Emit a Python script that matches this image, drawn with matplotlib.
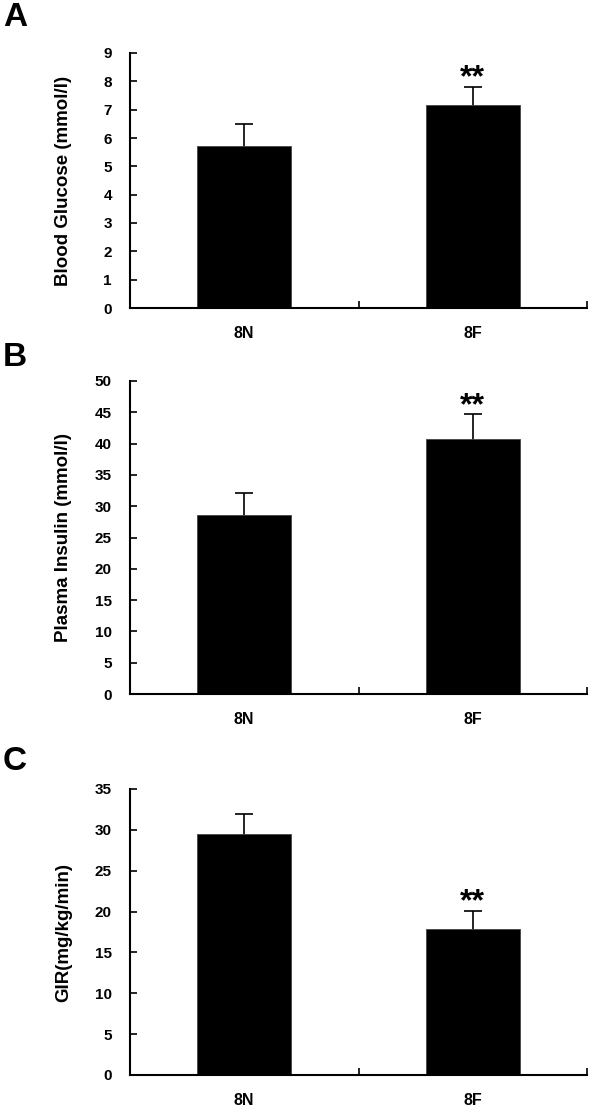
import matplotlib
matplotlib.use("Agg")
import matplotlib.pyplot as plt

groups = ["8N", "8F"]

glucose_mean = [5.72, 7.17]
glucose_err = [0.78, 0.64]

insulin_mean = [28.6, 40.7]
insulin_err = [3.5, 4.0]

gir_mean = [29.5, 17.9]
gir_err = [2.5, 2.2]

panel_letters = ["A", "B", "C"]
ylabels = ["Blood Glucose (mmol/l)", "Plasma Insulin (mmol/l)", "GIR(mg/kg/min)"]
ymax = [9, 50, 35]
ystep = [1, 5, 5]
signif = [[None, "**"], [None, "**"], [None, "**"]]

plt.rcParams['font.family'] = ['Liberation Sans', 'DejaVu Sans']
plt.rcParams['font.weight'] = 'bold'

fig = plt.figure(figsize=(6, 11.14), dpi=100)

W, H = 600, 1114
left, right = 130, 587
panels_px = [(53, 308), (381, 694), (789, 1075)]
letter_y = [18, 358, 761]

data = [(glucose_mean, glucose_err), (insulin_mean, insulin_err), (gir_mean, gir_err)]

for i, ((top, bot), (means, errs)) in enumerate(zip(panels_px, data)):
    ax = fig.add_axes([left / W, 1 - bot / H, (right - left) / W, (bot - top) / H])
    x = list(range(len(groups)))
    ax.bar(x, means, width=0.41, color='black', edgecolor='#444444', linewidth=0.6, zorder=2)
    ax.errorbar(x, means, yerr=errs, fmt='none', ecolor='black',
                elinewidth=1.2, capsize=6.5, capthick=1.2, zorder=1)
    for xi, (m, e, s) in enumerate(zip(means, errs, signif[i])):
        if s:
            ax.annotate(s, (xi, m + e), xytext=(0, -5), textcoords='offset points',
                        ha='center', va='bottom', fontsize=23, fontweight='bold')
    ax.set_xlim(-0.5, 1.5)
    ax.set_ylim(0, ymax[i])
    ax.set_yticks(range(0, ymax[i] + 1, ystep[i]))
    ax.set_xticks([-0.5, 0.5, 1.5])
    ax.set_xticklabels([])
    ax.set_xticks(x, minor=True)
    ax.set_xticklabels(groups, minor=True)
    ax.tick_params(axis='x', which='major', direction='in', length=5, width=1.2)
    ax.tick_params(axis='x', which='minor', length=0, pad=13, labelsize=11.5)
    ax.tick_params(axis='y', direction='in', length=5, width=1.2, pad=13, labelsize=11)
    for lab in ax.get_xticklabels(minor=True) + ax.get_yticklabels():
        lab.set_fontweight('bold')
    for sp in ['top', 'right']:
        ax.spines[sp].set_visible(False)
    for sp in ['left', 'bottom']:
        ax.spines[sp].set_linewidth(1.5)
    ax.set_ylabel(ylabels[i], fontsize=13.5, fontweight='bold')
    ax.yaxis.set_label_coords((72 - left) / (right - left), 0.5)
    fig.text(3 / W, 1 - letter_y[i] / H, panel_letters[i], fontsize=24, fontweight='bold',
             ha='left', va='center')

fig.savefig("out.png", dpi=100)
